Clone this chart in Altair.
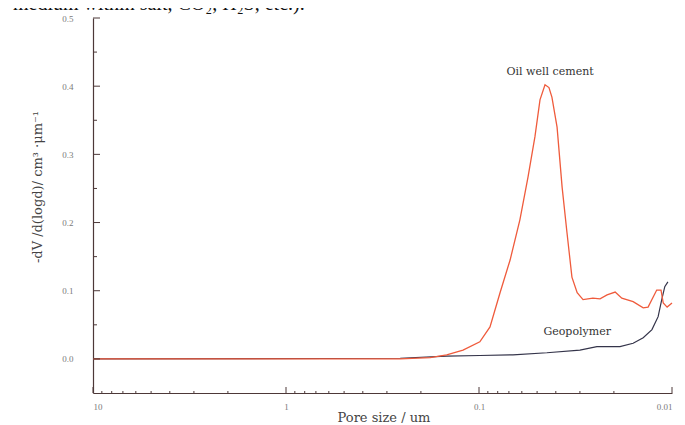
import altair as alt
import pandas as pd

# Oil well cement: pore size (um) and -dV/d(logd)
oil_d = [10, 1.54, 0.256, 0.179, 0.147, 0.121, 0.099, 0.0877, 0.0778, 0.069, 0.0614,
         0.0557, 0.0513, 0.0483, 0.0455, 0.0434, 0.0419, 0.0394, 0.0371, 0.035, 0.033,
         0.031, 0.0289, 0.0257, 0.0236, 0.0217, 0.0197, 0.0182, 0.0159, 0.0141, 0.0133,
         0.0120, 0.0114, 0.0111, 0.0106, 0.0100]
oil_v = [0.0, 0.0, 0.0, 0.002, 0.006, 0.013, 0.025, 0.047, 0.097, 0.145, 0.204,
         0.267, 0.326, 0.380, 0.402, 0.398, 0.384, 0.340, 0.252, 0.185, 0.120,
         0.097, 0.087, 0.089, 0.088, 0.094, 0.098, 0.089, 0.084, 0.075, 0.076,
         0.101, 0.101, 0.082, 0.076, 0.082]

# Geopolymer
geo_d = [10, 0.256, 0.147, 0.099, 0.0667, 0.0445, 0.030, 0.0245, 0.0186, 0.0159,
         0.0141, 0.0127, 0.0118, 0.0113, 0.0109, 0.0105]
geo_v = [0.0, 0.001, 0.004, 0.005, 0.006, 0.009, 0.013, 0.018, 0.018, 0.023,
         0.031, 0.043, 0.062, 0.087, 0.106, 0.113]

x_major = [10, 1, 0.1, 0.01]
x_minor = [m * b for b in [1, 0.1, 0.01] for m in [2, 3, 4, 5, 6, 7, 8, 9]]
y_major = [0.0, 0.1, 0.2, 0.3, 0.4, 0.5]
y_minor = [0.05, 0.15, 0.25, 0.35, 0.45]

labels = ["Oil well cement", "Geopolymer"]
label_d = [0.0428, 0.031]
label_v = [0.421, 0.040]

W, H = 579, 375
AX = "#4d3838"

oil = pd.DataFrame({"d": oil_d, "v": oil_v})
geo = pd.DataFrame({"d": geo_d, "v": geo_v})

xscale = alt.Scale(type="log", domain=[0.01, 10], reverse=True)
yscale = alt.Scale(domain=[-0.05, 0.5], nice=False, zero=False)

xaxis = alt.Axis(values=x_major, labelExpr="toString(datum.value)", ticks=False, tickSize=0,
                 grid=False, domainColor=AX, domainWidth=1.2, labelFont="Liberation Serif",
                 labelFontSize=9, labelColor="#7a7a7a", labelPadding=9, title=None)
yaxis = alt.Axis(values=y_major, format=".1f", ticks=False, tickSize=0, grid=False,
                 domainColor=AX, domainWidth=1.2, labelFont="Liberation Serif",
                 labelFontSize=9, labelColor="#7a7a7a", labelPadding=20, title=None)

geo_line = alt.Chart(geo).mark_line(color="#34344a", strokeWidth=1.2).encode(
    x=alt.X("d:Q", scale=xscale, axis=xaxis),
    y=alt.Y("v:Q", scale=yscale, axis=yaxis),
)
oil_line = alt.Chart(oil).mark_line(color="#ef5b3c", strokeWidth=1.3).encode(
    x=alt.X("d:Q", scale=xscale),
    y=alt.Y("v:Q", scale=yscale),
)

ymaj = alt.Chart(pd.DataFrame({"t": y_major})).mark_rule(color=AX, strokeWidth=1).encode(
    y=alt.Y("t:Q", scale=yscale), x=alt.value(0), x2=alt.value(7))
ymin = alt.Chart(pd.DataFrame({"t": y_minor})).mark_rule(color=AX, strokeWidth=1).encode(
    y=alt.Y("t:Q", scale=yscale), x=alt.value(0), x2=alt.value(4))
xmaj = alt.Chart(pd.DataFrame({"t": x_major})).mark_rule(color=AX, strokeWidth=1).encode(
    x=alt.X("t:Q", scale=xscale), y=alt.value(H), y2=alt.value(H - 6))
xmin = alt.Chart(pd.DataFrame({"t": x_minor})).mark_rule(color=AX, strokeWidth=1).encode(
    x=alt.X("t:Q", scale=xscale), y=alt.value(H), y2=alt.value(H - 2))

ann = alt.Chart(pd.DataFrame({"d": label_d, "v": label_v, "s": labels})).mark_text(
    font="DejaVu Serif", fontSize=11, color="#333333", align="center", baseline="middle"
).encode(x=alt.X("d:Q", scale=xscale), y=alt.Y("v:Q", scale=yscale), text="s:N")

xtitle = alt.Chart(pd.DataFrame({"s": ["Pore size / um"]})).mark_text(
    font="DejaVu Serif", fontSize=13, color="#444444", align="center", baseline="middle"
).encode(x=alt.value(291), y=alt.value(400), text="s:N")

ytitle = alt.Chart(pd.DataFrame({"s": ["-dV /d(logd)/ cm³ ·μm⁻¹"]})).mark_text(
    font="DejaVu Serif", fontSize=13, color="#444444", align="center", baseline="middle", angle=270
).encode(x=alt.value(-55), y=alt.value(169), text="s:N")

toptext = alt.Chart(pd.DataFrame({"s": ["medium within salt, CO₂, H₂S, etc.)."]})).mark_text(
    font="Liberation Serif", fontSize=20, color="#111111", align="left", baseline="alphabetic"
).encode(x=alt.value(-80), y=alt.value(-8), text="s:N")

chart = alt.layer(geo_line, oil_line, ymaj, ymin, xmaj, xmin, ann, xtitle, ytitle, toptext).properties(
    width=W, height=H,
    autosize=alt.AutoSizeParams(type="none"),
    padding={"left": 85, "top": 10, "right": 5, "bottom": 32},
    background="white",
).configure_view(stroke=None)

chart.save("out.html", embed_options={"renderer": "svg", "actions": False})
